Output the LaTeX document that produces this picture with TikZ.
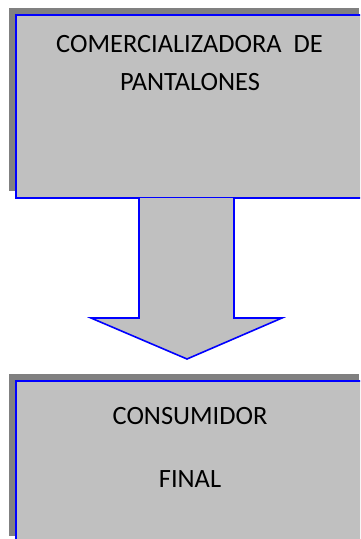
\documentclass[tikz,border=0pt]{standalone}
\usepackage{fontspec}
\setmainfont{Carlito}
\usetikzlibrary{shadows}
\definecolor{boxfill}{HTML}{C0C0C0}
\definecolor{shadowgray}{HTML}{808080}
\definecolor{edgeblue}{HTML}{0000FF}
\begin{document}
\begin{tikzpicture}[x=1pt,y=-1pt,
  box/.style={draw=edgeblue, line width=1.6pt, fill=boxfill, rectangle, inner sep=0pt,
    general shadow={fill=shadowgray, shadow xshift=-7.5pt, shadow yshift=7.5pt}},
  txt/.style={font=\fontsize{26.4}{31}\selectfont, anchor=base, inner sep=0pt},
  flow/.style={draw=edgeblue, line width=1.6pt, fill=boxfill, line join=miter}]
\clip (0,0) rectangle (360,539);
\useasboundingbox (0,0) rectangle (360,539);
\node[box, minimum width=350pt, minimum height=183pt] (top) at (191,106.5) {};
\node[box, minimum width=350pt, minimum height=162pt] (bottom) at (191,462) {};
\node[txt] (t1) at (189.5,52) {COMERCIALIZADORA\ \ DE};
\node[txt] (t2) at (190,90) {PANTALONES};
\node[txt] (b1) at (190,424) {CONSUMIDOR};
\node[txt] (b2) at (190,487) {FINAL};
\coordinate (sl) at (139,198);
\coordinate (sr) at (234,198);
\coordinate (tip) at (187,359);
\draw[flow] (sl) -- (139,318) -- (91,318) -- (tip) -- (282,318) -- (234,318) -- (sr);
\end{tikzpicture}
\end{document}
